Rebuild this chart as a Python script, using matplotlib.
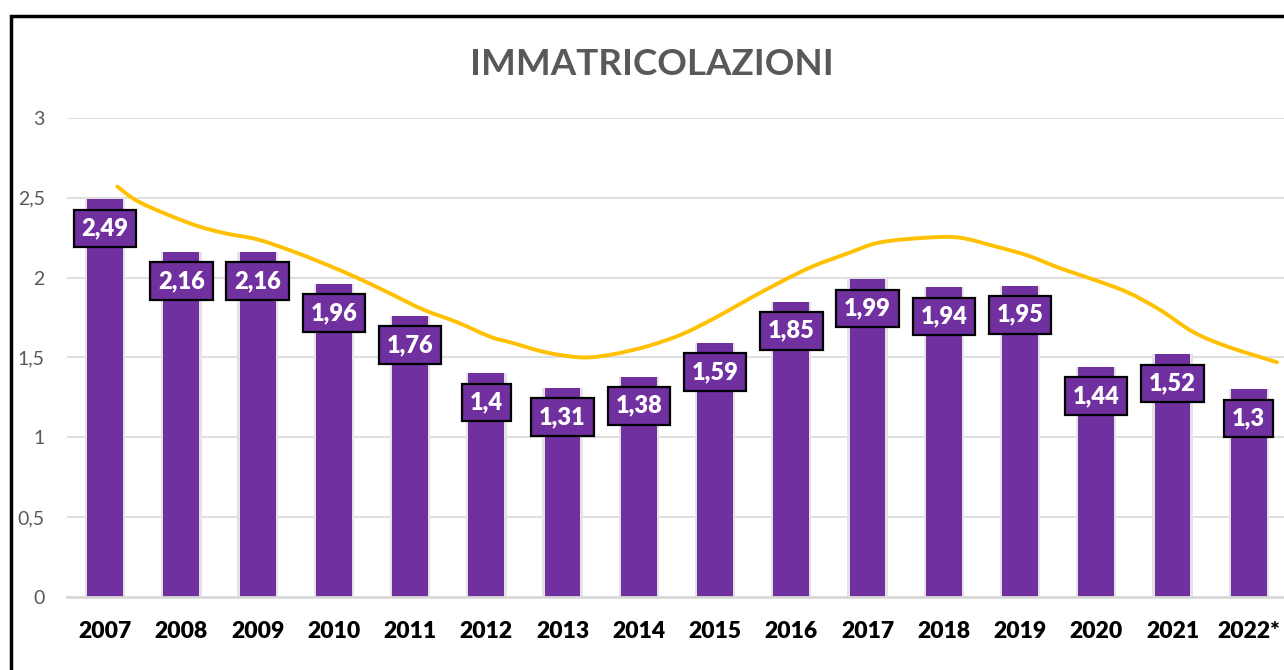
import numpy as np
import matplotlib.pyplot as plt
from matplotlib.patches import Rectangle, PathPatch
from matplotlib.path import Path

years = ['2007', '2008', '2009', '2010', '2011', '2012', '2013', '2014',
         '2015', '2016', '2017', '2018', '2019', '2020', '2021', '2022*']
values = [2.49, 2.16, 2.16, 1.96, 1.76, 1.4, 1.31, 1.38,
          1.59, 1.85, 1.99, 1.94, 1.95, 1.44, 1.52, 1.3]
title = 'IMMATRICOLAZIONI'
yticks = [0, 0.5, 1, 1.5, 2, 2.5, 3]

# hand-drawn trend curve (category position, value)
trend_x = [0.16, 0.46, 1.11, 1.55, 1.99, 2.43, 2.86, 3.30, 3.74, 4.17,
           4.62, 5.05, 5.35, 5.80, 6.27, 6.66, 7.11, 7.54, 7.97, 8.42,
           8.85, 9.28, 9.73, 10.16, 10.78, 11.21, 11.64, 12.09, 12.52,
           12.95, 13.40, 13.83, 14.27, 14.71, 15.37]
trend_y = [2.57, 2.47, 2.34, 2.28, 2.24, 2.17, 2.09, 2.00, 1.90, 1.80,
           1.72, 1.63, 1.59, 1.53, 1.50, 1.52, 1.57, 1.64, 1.74, 1.86,
           1.97, 2.07, 2.15, 2.22, 2.25, 2.25, 2.20, 2.14, 2.06,
           1.99, 1.91, 1.80, 1.66, 1.57, 1.47]

purple = '#7030A0'
gold = '#FFC000'
grid = '#D9D9D9'

plt.rcParams['font.family'] = ['Lato', 'DejaVu Sans']

fig = plt.figure(figsize=(12.84, 6.70), dpi=100)
ax = fig.add_axes([0.0522, 0.109, 0.950, 0.715])

x = np.arange(len(years))
# soft shadow behind the bars
ax.bar(x, values, width=0.53, color='#E3E3E3', zorder=2)
ax.bar(x, values, width=0.47, color=purple, zorder=3)

# smooth curve through the read points (Catmull-Rom drawn as Bezier segments)
pts = np.column_stack([trend_x, trend_y])
ext = np.vstack([pts[0], pts, pts[-1]])
verts = [pts[0]]
codes = [Path.MOVETO]
for i in range(1, len(ext) - 2):
    p0, p1, p2, p3 = ext[i - 1], ext[i], ext[i + 1], ext[i + 2]
    verts += [p1 + (p2 - p0) / 6, p2 - (p3 - p1) / 6, p2]
    codes += [Path.CURVE4] * 3
ax.add_patch(PathPatch(Path(verts, codes), fill=False, ec=gold, lw=2.8,
                       capstyle='round', zorder=4))

for xi, v in zip(x, values):
    lab = ('%g' % v).replace('.', ',')
    ax.annotate(lab, (xi, v), xytext=(0, -21), textcoords='offset points',
                ha='center', va='center', color='white', fontsize=17,
                fontweight='heavy', zorder=6,
                bbox=dict(boxstyle='square,pad=0.33', fc=purple, ec='black', lw=1.6))

ax.set_xlim(-0.5, len(years) - 0.5)
ax.set_ylim(0, 3)
ax.set_yticks(yticks)
ax.set_yticklabels([('%g' % t).replace('.', ',') for t in yticks],
                   color='#595959', fontsize=14)
ax.set_xticks(x)
ax.set_xticklabels(years, fontsize=16.5, fontweight='heavy', color='black')
ax.tick_params(length=0)
ax.tick_params(axis='y', pad=16)
ax.tick_params(axis='x', pad=17)
ax.yaxis.grid(True, color=grid, lw=1.2, zorder=0)
ax.set_axisbelow(True)
for s in ['top', 'right', 'left']:
    ax.spines[s].set_visible(False)
ax.spines['bottom'].set_color(grid)
ax.spines['bottom'].set_linewidth(2)
ax.spines['bottom'].set_zorder(5)

fig.text(0.508, 0.904, title, ha='center', va='center', fontsize=26.5,
         fontweight='bold', color='#595959')

# chart border (extends past the right and bottom edges)
fig.patches.append(Rectangle((11 / 1284, -0.1), 1.2, 1.1 - 16 / 670,
                             transform=fig.transFigure, fill=False,
                             ec='black', lw=2.5))

fig.savefig('out.png', dpi=100)
